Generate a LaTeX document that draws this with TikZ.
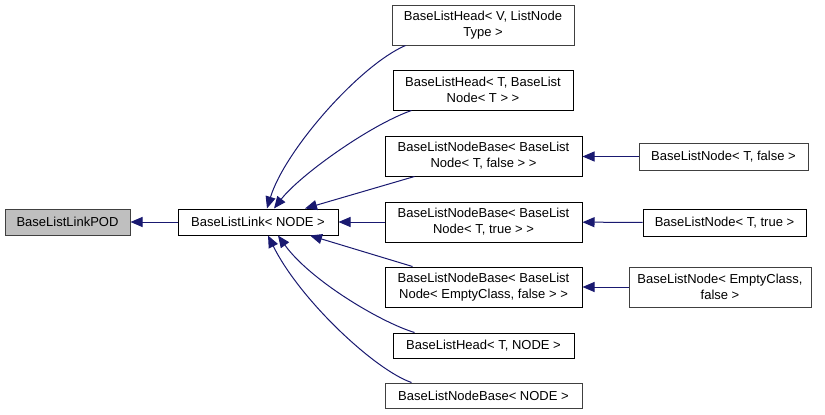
\documentclass[tikz,border=0pt]{standalone}
\usepackage{fontspec}
\setmainfont{Liberation Sans}
\usepackage{tikz}
\usetikzlibrary{arrows.meta}
\definecolor{edgeblue}{HTML}{191970}
\definecolor{boxgray}{HTML}{404040}

\begin{document}
\begin{tikzpicture}[x=1pt, y=-1pt,
        cls/.style={draw=black, line width=1pt, fill=white, align=center, inner sep=0pt,
            font=\fontsize{13}{16}\selectfont},
        clsgray/.style={cls, draw=boxgray},
        inh/.style={draw=edgeblue, line width=1pt, -{Triangle[length=12pt,width=10pt]}}]
        \useasboundingbox (0,0) rectangle (825,415);
        % base classes
        \node [clsgray, fill={rgb,255:red,191;green,191;blue,191}, minimum width=125pt, minimum height=26pt] (pod) at (67.5,222) {BaseListLinkPOD};
        \node [cls, minimum width=160pt, minimum height=26pt] (link) at (258,222) {BaseListLink< NODE >};
        % middle column
        \node [clsgray, minimum width=182pt, minimum height=40pt] (headA) at (483,25) {BaseListHead< V, ListNode\\Type >};
        \node [cls, minimum width=180pt, minimum height=40pt] (headB) at (483,90) {BaseListHead< T, BaseList\\Node< T > >};
        \node [cls, minimum width=197pt, minimum height=40pt] (nbA) at (483.5,156) {BaseListNodeBase< BaseList\\Node< T, false > >};
        \node [cls, minimum width=197pt, minimum height=40pt] (nbB) at (483.5,222) {BaseListNodeBase< BaseList\\Node< T, true > >};
        \node [cls, minimum width=197pt, minimum height=40pt] (nbC) at (483.5,287) {BaseListNodeBase< BaseList\\Node< EmptyClass, false > >};
        \node [cls, minimum width=181pt, minimum height=25pt] (headC) at (483.5,345.5) {BaseListHead< T, NODE >};
        \node [clsgray, minimum width=197pt, minimum height=25pt] (nbD) at (483.5,395.5) {BaseListNodeBase< NODE >};
        % right column
        \node [clsgray, minimum width=169pt, minimum height=27pt] (lnA) at (723.5,156.5) {BaseListNode< T, false >};
        \node [cls, minimum width=163pt, minimum height=27pt] (lnB) at (724.5,222.5) {BaseListNode< T, true >};
        \node [clsgray, minimum width=182pt, minimum height=40pt] (lnC) at (720,287) {BaseListNode< EmptyClass,\\false >};
        % inheritance edges
        \draw [inh] (link) -- (pod);
        \draw [inh] ([xshift=14pt]headA.south west) .. controls (360,65) and (285,150) .. ([xshift=9pt]link.north);
        \draw [inh] ([xshift=19pt]headB.south west) .. controls (370,125) and (300,175) .. ([xshift=16pt]link.north);
        \draw [inh] ([xshift=30pt]nbA.south west) -- ([xshift=47pt]link.north);
        \draw [inh] (nbB) -- (link);
        \draw [inh] ([xshift=28pt]nbC.north west) -- ([xshift=52pt]link.south);
        \draw [inh] ([xshift=22pt]headC.north west) .. controls (380,322) and (310,280) .. ([xshift=20pt]link.south);
        \draw [inh] ([xshift=27pt]nbD.north west) .. controls (375,370) and (300,300) .. ([xshift=10pt]link.south);
        \draw [inh] (lnA) -- (lnA -| nbA.east);
        \draw [inh] (lnB) -- (nbB);
        \draw [inh] (lnC) -- (nbC);
\end{tikzpicture}
\end{document}
